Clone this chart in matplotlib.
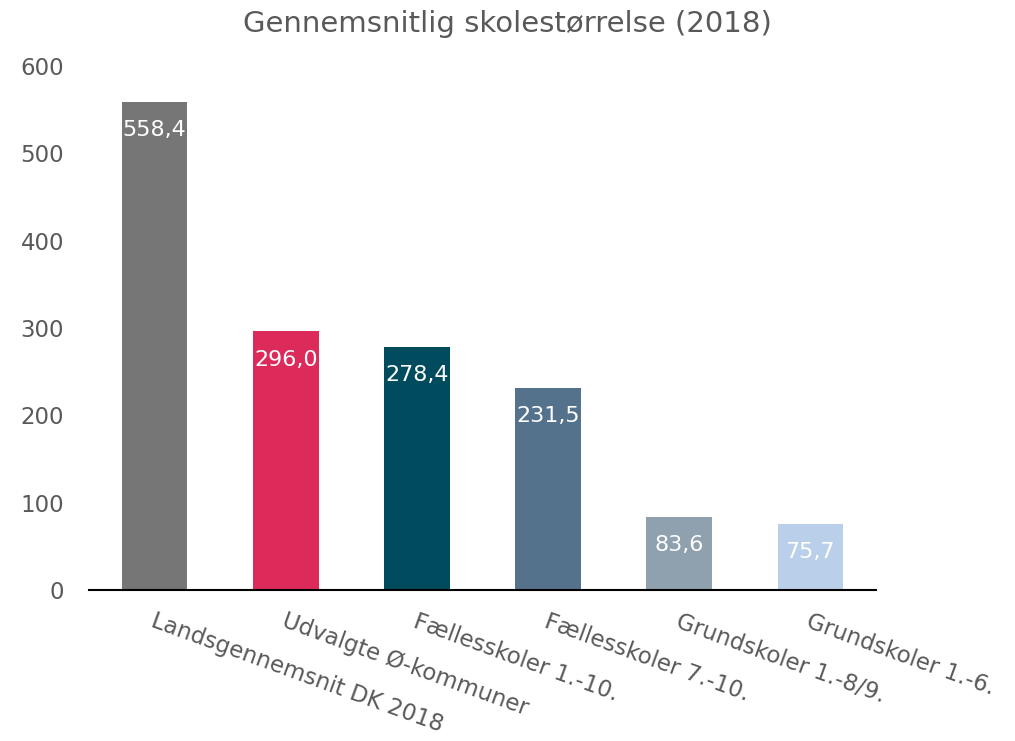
import matplotlib
matplotlib.use("Agg")
import matplotlib.pyplot as plt

categories = ["Landsgennemsnit DK 2018", "Udvalgte Ø-kommuner", "Fællesskoler 1.-10.",
              "Fællesskoler 7.-10.", "Grundskoler 1.-8/9.", "Grundskoler 1.-6."]
values = [558.4, 296.0, 278.4, 231.5, 83.6, 75.7]
colors = ["#767676", "#DC2A5A", "#004B5E", "#55728C", "#8FA0AE", "#BAD0EA"]
yticks = [0, 100, 200, 300, 400, 500, 600]

plt.rcParams['font.family'] = ['DejaVu Sans']
txt = "#595959"

fig = plt.figure(figsize=(10.15, 7.41), dpi=100)
ax = fig.add_axes([0.0877, 0.2038, 0.863 - 0.0877, 0.911 - 0.2038])
x = list(range(len(categories)))
bars = ax.bar(x, values, width=0.5, color=colors, zorder=2)
ax.set_xlim(-0.5, len(categories) - 0.5)
ax.set_ylim(0, 600)
ax.set_yticks(yticks)
ax.set_yticklabels([str(v) for v in yticks], fontsize=16.5, color=txt)
ax.tick_params(axis='y', length=0, pad=18)
ax.tick_params(axis='x', length=0)
ax.set_xticks(x)
ax.set_xticklabels([])
for s in ["top", "right", "left"]:
    ax.spines[s].set_visible(False)
ax.spines["bottom"].set_color("#000000")
ax.spines["bottom"].set_linewidth(1.5)

for xi, v in zip(x, values):
    ax.annotate(f"{v:.1f}".replace(".", ","), xy=(xi, v), xytext=(0, -13),
                textcoords="offset points", ha="center", va="top",
                color="white", fontsize=16)

for xi, c in zip(x, categories):
    ax.annotate(c, xy=(xi, 0), xytext=(-2, -22), textcoords="offset points",
                ha="left", va="center", rotation=-20, rotation_mode="anchor",
                color=txt, fontsize=16.5)

fig.text(0.5, 0.968, "Gennemsnitlig skolestørrelse (2018)", ha="center", va="center",
         fontsize=21, color=txt)

fig.savefig("out.png", dpi=100)
